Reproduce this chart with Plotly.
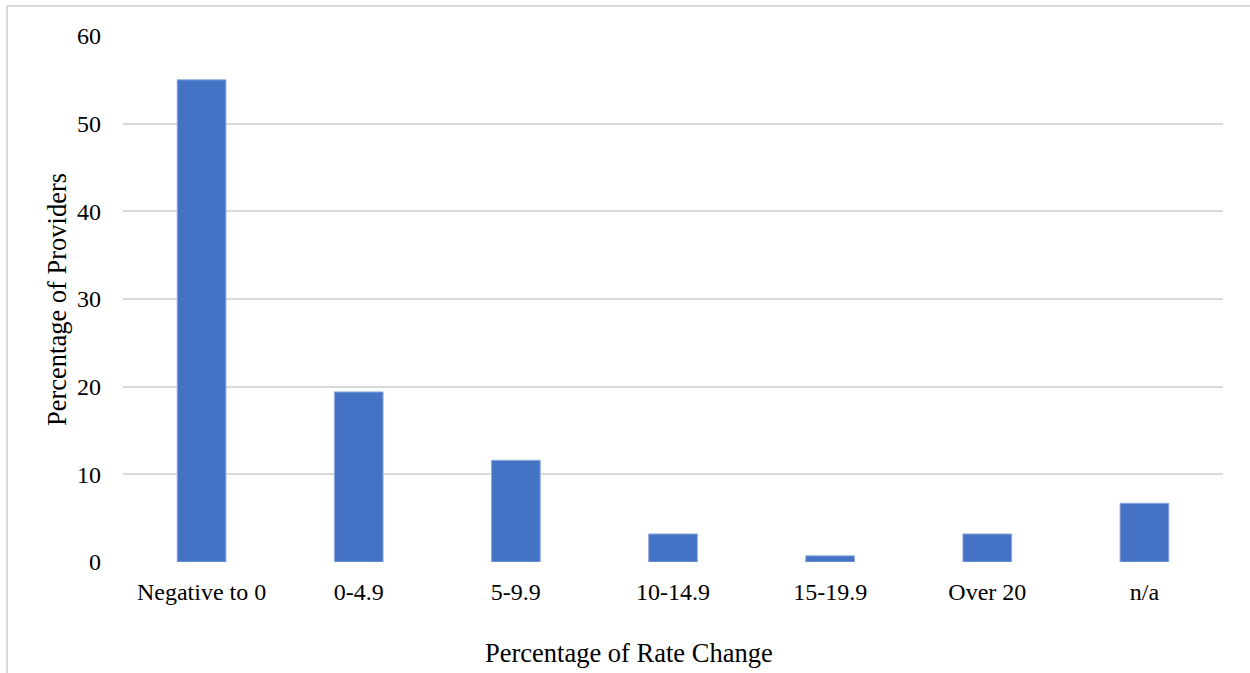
import plotly.graph_objects as go

# Share of providers by size of rate change
categories = ["Negative to 0", "0-4.9", "5-9.9", "10-14.9", "15-19.9", "Over 20", "n/a"]
providers_pct = [55.0, 19.4, 11.6, 3.2, 0.7, 3.2, 6.7]
y_ticks = [0, 10, 20, 30, 40, 50, 60]

W, H = 1250, 673
L, R, T, B = 123, 27, 36, 111
PW, PH = W - L - R, H - T - B

font_family = "Liberation Serif, Times New Roman, serif"
grid_color = "#d9d9d9"


def px_x(px):
    """Horizontal pixel position -> paper coordinate."""
    return (px - L) / PW


def px_y(py):
    """Vertical pixel position (from top) -> paper coordinate."""
    return (H - B - py) / PH


fig = go.Figure(
    go.Bar(
        x=categories,
        y=providers_pct,
        marker=dict(color="#4472C4", line=dict(color="#8fabdd", width=1)),
        hoverinfo="x+y",
    )
)

fig.update_layout(
    width=W,
    height=H,
    margin=dict(l=L, r=R, t=T, b=B, pad=0),
    paper_bgcolor="white",
    plot_bgcolor="white",
    bargap=0.69,
    showlegend=False,
    font=dict(family=font_family, color="#000000", size=24),
    xaxis=dict(
        showgrid=False,
        showline=False,
        zeroline=False,
        ticks="",
        ticklabelstandoff=13,
        tickfont=dict(size=24),
    ),
    yaxis=dict(
        range=[0, 60],
        tickvals=y_ticks,
        showgrid=True,
        gridcolor=grid_color,
        gridwidth=1.5,
        zeroline=False,
        showline=False,
        ticks="",
        ticklabelstandoff=21,
        tickfont=dict(size=24),
    ),
    annotations=[
        dict(
            text="Percentage of Rate Change",
            xref="paper", yref="paper",
            x=px_x(629), y=px_y(653),
            xanchor="center", yanchor="middle",
            showarrow=False,
            font=dict(size=26.5),
        ),
        dict(
            text="Percentage of Providers",
            xref="paper", yref="paper",
            x=px_x(57), y=px_y(300),
            xanchor="center", yanchor="middle",
            textangle=-90,
            showarrow=False,
            font=dict(size=26.5),
        ),
    ],
    shapes=[
        # outer frame lines along the top and left edges
        dict(type="line", xref="paper", yref="paper",
             x0=px_x(7), x1=px_x(W + 5), y0=px_y(6), y1=px_y(6),
             line=dict(color=grid_color, width=2)),
        dict(type="line", xref="paper", yref="paper",
             x0=px_x(7), x1=px_x(7), y0=px_y(6), y1=px_y(H + 5),
             line=dict(color=grid_color, width=2)),
    ],
)

fig.write_html("out.html")
